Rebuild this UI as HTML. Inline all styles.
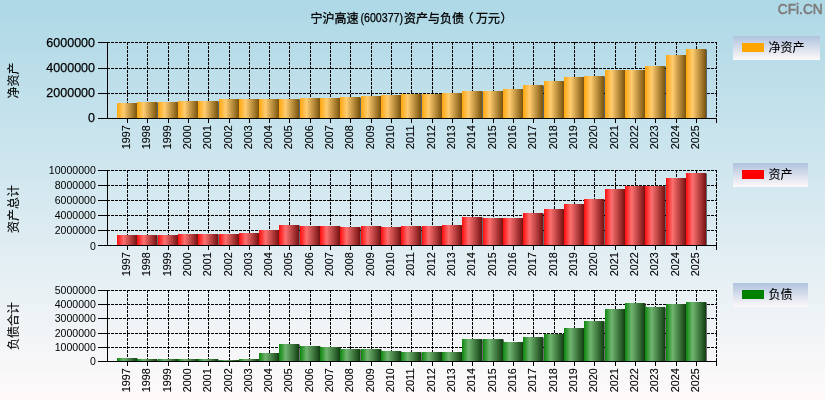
<!DOCTYPE html>
<html lang="zh-CN"><head><meta charset="utf-8"><title>宁沪高速(600377)资产与负债（万元）</title>
<style>
html,body{margin:0;padding:0;background:#fff;}
body{width:825px;height:400px;overflow:hidden;}
svg{display:block;}
text{font-family:"Liberation Sans","Noto Sans CJK SC",sans-serif;fill:#000;stroke:#000;stroke-width:0.25px;}
.cj{font-family:"Liberation Sans","Noto Sans CJK SC",sans-serif;font-size:12px;stroke-width:0.12px;}
.grid{stroke:#000;stroke-width:1;stroke-dasharray:3 1;fill:none;shape-rendering:crispEdges;}
.ax{stroke:#000;stroke-width:1;fill:none;shape-rendering:crispEdges;}
.tt{stroke-width:0.3px;}
.xl{font-size:10.8px;stroke-width:0.1px;}
</style></head><body>
<svg width="825" height="400" viewBox="0 0 825 400">
<defs>
<linearGradient id="bg" x1="0" y1="0" x2="0" y2="1"><stop offset="0" stop-color="#ADD8E6"/><stop offset="1" stop-color="#FFFAFA"/></linearGradient>
<linearGradient id="lg" x1="0" y1="0" x2="0" y2="1"><stop offset="0" stop-color="#B0C3DE"/><stop offset="1" stop-color="#FEF9FA"/></linearGradient>
<linearGradient id="g1" x1="0" y1="0" x2="1" y2="0"><stop offset="0" stop-color="#FFA60E"/><stop offset="0.33" stop-color="#FFCC70"/><stop offset="1" stop-color="#79530D"/></linearGradient>
<linearGradient id="g2" x1="0" y1="0" x2="1" y2="0"><stop offset="0" stop-color="#FF0C0C"/><stop offset="0.33" stop-color="#FC7070"/><stop offset="1" stop-color="#761111"/></linearGradient>
<linearGradient id="g3" x1="0" y1="0" x2="1" y2="0"><stop offset="0" stop-color="#0C860C"/><stop offset="0.33" stop-color="#70B470"/><stop offset="1" stop-color="#113E11"/></linearGradient>
</defs>
<rect x="0" y="0" width="825" height="400" fill="url(#bg)"/>

<text x="310.5" y="22.5" class="cj tt">宁沪高速</text>
<text x="360.5" y="22" font-size="12px" textLength="42.5" lengthAdjust="spacingAndGlyphs">(600377)</text>
<text y="22.5" class="cj tt"><tspan x="404">资产与负债</tspan><tspan x="461.5">（</tspan><tspan x="476">万元</tspan><tspan x="500.5">）</tspan></text>
<text x="777.8" y="14.4" font-size="14px" style="fill:#7e7b7b;stroke:#7e7b7b;stroke-width:0.55px" textLength="44.9" lengthAdjust="spacingAndGlyphs">CFi.CN</text>
<line class="grid" x1="107" y1="42.5" x2="717" y2="42.5"/>
<line class="grid" x1="107" y1="68.5" x2="717" y2="68.5"/>
<line class="grid" x1="107" y1="93.5" x2="717" y2="93.5"/>
<line class="grid" x1="127.5" y1="42.0" x2="127.5" y2="118.0"/>
<line class="grid" x1="147.5" y1="42.0" x2="147.5" y2="118.0"/>
<line class="grid" x1="168.5" y1="42.0" x2="168.5" y2="118.0"/>
<line class="grid" x1="188.5" y1="42.0" x2="188.5" y2="118.0"/>
<line class="grid" x1="208.5" y1="42.0" x2="208.5" y2="118.0"/>
<line class="grid" x1="229.5" y1="42.0" x2="229.5" y2="118.0"/>
<line class="grid" x1="249.5" y1="42.0" x2="249.5" y2="118.0"/>
<line class="grid" x1="269.5" y1="42.0" x2="269.5" y2="118.0"/>
<line class="grid" x1="289.5" y1="42.0" x2="289.5" y2="118.0"/>
<line class="grid" x1="310.5" y1="42.0" x2="310.5" y2="118.0"/>
<line class="grid" x1="330.5" y1="42.0" x2="330.5" y2="118.0"/>
<line class="grid" x1="350.5" y1="42.0" x2="350.5" y2="118.0"/>
<line class="grid" x1="371.5" y1="42.0" x2="371.5" y2="118.0"/>
<line class="grid" x1="391.5" y1="42.0" x2="391.5" y2="118.0"/>
<line class="grid" x1="411.5" y1="42.0" x2="411.5" y2="118.0"/>
<line class="grid" x1="432.5" y1="42.0" x2="432.5" y2="118.0"/>
<line class="grid" x1="452.5" y1="42.0" x2="452.5" y2="118.0"/>
<line class="grid" x1="472.5" y1="42.0" x2="472.5" y2="118.0"/>
<line class="grid" x1="493.5" y1="42.0" x2="493.5" y2="118.0"/>
<line class="grid" x1="513.5" y1="42.0" x2="513.5" y2="118.0"/>
<line class="grid" x1="533.5" y1="42.0" x2="533.5" y2="118.0"/>
<line class="grid" x1="554.5" y1="42.0" x2="554.5" y2="118.0"/>
<line class="grid" x1="574.5" y1="42.0" x2="574.5" y2="118.0"/>
<line class="grid" x1="594.5" y1="42.0" x2="594.5" y2="118.0"/>
<line class="grid" x1="615.5" y1="42.0" x2="615.5" y2="118.0"/>
<line class="grid" x1="635.5" y1="42.0" x2="635.5" y2="118.0"/>
<line class="grid" x1="655.5" y1="42.0" x2="655.5" y2="118.0"/>
<line class="grid" x1="676.5" y1="42.0" x2="676.5" y2="118.0"/>
<line class="grid" x1="696.5" y1="42.0" x2="696.5" y2="118.0"/>
<line class="grid" x1="716.5" y1="42.0" x2="716.5" y2="118.0"/>
<rect x="118" y="103.5" width="20" height="14.5" fill="#000" fill-opacity="0.55"/>
<rect x="138" y="102.5" width="20" height="15.5" fill="#000" fill-opacity="0.55"/>
<rect x="159" y="102.5" width="20" height="15.5" fill="#000" fill-opacity="0.55"/>
<rect x="179" y="101.5" width="20" height="16.5" fill="#000" fill-opacity="0.55"/>
<rect x="199" y="101.5" width="20" height="16.5" fill="#000" fill-opacity="0.55"/>
<rect x="220" y="99.5" width="20" height="18.5" fill="#000" fill-opacity="0.55"/>
<rect x="240" y="99.5" width="20" height="18.5" fill="#000" fill-opacity="0.55"/>
<rect x="260" y="99.5" width="20" height="18.5" fill="#000" fill-opacity="0.55"/>
<rect x="280" y="99.5" width="20" height="18.5" fill="#000" fill-opacity="0.55"/>
<rect x="301" y="98.5" width="20" height="19.5" fill="#000" fill-opacity="0.55"/>
<rect x="321" y="98.5" width="20" height="19.5" fill="#000" fill-opacity="0.55"/>
<rect x="341" y="97.5" width="20" height="20.5" fill="#000" fill-opacity="0.55"/>
<rect x="362" y="96.5" width="20" height="21.5" fill="#000" fill-opacity="0.55"/>
<rect x="382" y="95.5" width="20" height="22.5" fill="#000" fill-opacity="0.55"/>
<rect x="402" y="94.5" width="20" height="23.5" fill="#000" fill-opacity="0.55"/>
<rect x="423" y="94.5" width="20" height="23.5" fill="#000" fill-opacity="0.55"/>
<rect x="443" y="93.5" width="20" height="24.5" fill="#000" fill-opacity="0.55"/>
<rect x="463" y="91.5" width="20" height="26.5" fill="#000" fill-opacity="0.55"/>
<rect x="484" y="91.5" width="20" height="26.5" fill="#000" fill-opacity="0.55"/>
<rect x="504" y="89.5" width="20" height="28.5" fill="#000" fill-opacity="0.55"/>
<rect x="524" y="85.5" width="20" height="32.5" fill="#000" fill-opacity="0.55"/>
<rect x="545" y="81.5" width="20" height="36.5" fill="#000" fill-opacity="0.55"/>
<rect x="565" y="77.5" width="20" height="40.5" fill="#000" fill-opacity="0.55"/>
<rect x="585" y="76.5" width="20" height="41.5" fill="#000" fill-opacity="0.55"/>
<rect x="606" y="70.5" width="20" height="47.5" fill="#000" fill-opacity="0.55"/>
<rect x="626" y="70.5" width="20" height="47.5" fill="#000" fill-opacity="0.55"/>
<rect x="646" y="66.5" width="20" height="51.5" fill="#000" fill-opacity="0.55"/>
<rect x="667" y="55.5" width="20" height="62.5" fill="#000" fill-opacity="0.55"/>
<rect x="687" y="49.5" width="20" height="68.5" fill="#000" fill-opacity="0.55"/>
<rect x="117" y="103" width="20" height="15" fill="url(#g1)"/>
<rect x="137" y="102" width="20" height="16" fill="url(#g1)"/>
<rect x="158" y="102" width="20" height="16" fill="url(#g1)"/>
<rect x="178" y="101" width="20" height="17" fill="url(#g1)"/>
<rect x="198" y="101" width="20" height="17" fill="url(#g1)"/>
<rect x="219" y="99" width="20" height="19" fill="url(#g1)"/>
<rect x="239" y="99" width="20" height="19" fill="url(#g1)"/>
<rect x="259" y="99" width="20" height="19" fill="url(#g1)"/>
<rect x="279" y="99" width="20" height="19" fill="url(#g1)"/>
<rect x="300" y="98" width="20" height="20" fill="url(#g1)"/>
<rect x="320" y="98" width="20" height="20" fill="url(#g1)"/>
<rect x="340" y="97" width="20" height="21" fill="url(#g1)"/>
<rect x="361" y="96" width="20" height="22" fill="url(#g1)"/>
<rect x="381" y="95" width="20" height="23" fill="url(#g1)"/>
<rect x="401" y="94" width="20" height="24" fill="url(#g1)"/>
<rect x="422" y="94" width="20" height="24" fill="url(#g1)"/>
<rect x="442" y="93" width="20" height="25" fill="url(#g1)"/>
<rect x="462" y="91" width="20" height="27" fill="url(#g1)"/>
<rect x="483" y="91" width="20" height="27" fill="url(#g1)"/>
<rect x="503" y="89" width="20" height="29" fill="url(#g1)"/>
<rect x="523" y="85" width="20" height="33" fill="url(#g1)"/>
<rect x="544" y="81" width="20" height="37" fill="url(#g1)"/>
<rect x="564" y="77" width="20" height="41" fill="url(#g1)"/>
<rect x="584" y="76" width="20" height="42" fill="url(#g1)"/>
<rect x="605" y="70" width="20" height="48" fill="url(#g1)"/>
<rect x="625" y="70" width="20" height="48" fill="url(#g1)"/>
<rect x="645" y="66" width="20" height="52" fill="url(#g1)"/>
<rect x="666" y="55" width="20" height="63" fill="url(#g1)"/>
<rect x="686" y="49" width="20" height="69" fill="url(#g1)"/>
<line class="ax" x1="107.5" y1="42" x2="107.5" y2="119"/>
<line class="ax" x1="107.0" y1="118.5" x2="717.0" y2="118.5"/>
<line class="ax" x1="98" y1="42.5" x2="107.5" y2="42.5"/>
<text x="95" y="46.80" font-size="13px" style="stroke-width:0.25px" text-anchor="end" textLength="48.65" lengthAdjust="spacingAndGlyphs">6000000</text>
<line class="ax" x1="98" y1="68.5" x2="107.5" y2="68.5"/>
<text x="95" y="72.10" font-size="13px" style="stroke-width:0.25px" text-anchor="end" textLength="48.65" lengthAdjust="spacingAndGlyphs">4000000</text>
<line class="ax" x1="98" y1="93.5" x2="107.5" y2="93.5"/>
<text x="95" y="97.00" font-size="13px" style="stroke-width:0.25px" text-anchor="end" textLength="48.65" lengthAdjust="spacingAndGlyphs">2000000</text>
<line class="ax" x1="98" y1="118.5" x2="107.5" y2="118.5"/>
<text x="95" y="121.95" font-size="13px" style="stroke-width:0.25px" text-anchor="end" textLength="6.95" lengthAdjust="spacingAndGlyphs">0</text>
<line class="ax" x1="127.5" y1="119" x2="127.5" y2="123"/>
<text class="xl" transform="translate(129.6,125.3) rotate(-90)" text-anchor="end" textLength="24" lengthAdjust="spacingAndGlyphs">1997</text>
<line class="ax" x1="147.5" y1="119" x2="147.5" y2="123"/>
<text class="xl" transform="translate(149.6,125.3) rotate(-90)" text-anchor="end" textLength="24" lengthAdjust="spacingAndGlyphs">1998</text>
<line class="ax" x1="168.5" y1="119" x2="168.5" y2="123"/>
<text class="xl" transform="translate(170.6,125.3) rotate(-90)" text-anchor="end" textLength="24" lengthAdjust="spacingAndGlyphs">1999</text>
<line class="ax" x1="188.5" y1="119" x2="188.5" y2="123"/>
<text class="xl" transform="translate(190.6,125.3) rotate(-90)" text-anchor="end" textLength="24" lengthAdjust="spacingAndGlyphs">2000</text>
<line class="ax" x1="208.5" y1="119" x2="208.5" y2="123"/>
<text class="xl" transform="translate(210.6,125.3) rotate(-90)" text-anchor="end" textLength="24" lengthAdjust="spacingAndGlyphs">2001</text>
<line class="ax" x1="229.5" y1="119" x2="229.5" y2="123"/>
<text class="xl" transform="translate(231.6,125.3) rotate(-90)" text-anchor="end" textLength="24" lengthAdjust="spacingAndGlyphs">2002</text>
<line class="ax" x1="249.5" y1="119" x2="249.5" y2="123"/>
<text class="xl" transform="translate(251.6,125.3) rotate(-90)" text-anchor="end" textLength="24" lengthAdjust="spacingAndGlyphs">2003</text>
<line class="ax" x1="269.5" y1="119" x2="269.5" y2="123"/>
<text class="xl" transform="translate(271.6,125.3) rotate(-90)" text-anchor="end" textLength="24" lengthAdjust="spacingAndGlyphs">2004</text>
<line class="ax" x1="289.5" y1="119" x2="289.5" y2="123"/>
<text class="xl" transform="translate(291.6,125.3) rotate(-90)" text-anchor="end" textLength="24" lengthAdjust="spacingAndGlyphs">2005</text>
<line class="ax" x1="310.5" y1="119" x2="310.5" y2="123"/>
<text class="xl" transform="translate(312.6,125.3) rotate(-90)" text-anchor="end" textLength="24" lengthAdjust="spacingAndGlyphs">2006</text>
<line class="ax" x1="330.5" y1="119" x2="330.5" y2="123"/>
<text class="xl" transform="translate(332.6,125.3) rotate(-90)" text-anchor="end" textLength="24" lengthAdjust="spacingAndGlyphs">2007</text>
<line class="ax" x1="350.5" y1="119" x2="350.5" y2="123"/>
<text class="xl" transform="translate(352.6,125.3) rotate(-90)" text-anchor="end" textLength="24" lengthAdjust="spacingAndGlyphs">2008</text>
<line class="ax" x1="371.5" y1="119" x2="371.5" y2="123"/>
<text class="xl" transform="translate(373.6,125.3) rotate(-90)" text-anchor="end" textLength="24" lengthAdjust="spacingAndGlyphs">2009</text>
<line class="ax" x1="391.5" y1="119" x2="391.5" y2="123"/>
<text class="xl" transform="translate(393.6,125.3) rotate(-90)" text-anchor="end" textLength="24" lengthAdjust="spacingAndGlyphs">2010</text>
<line class="ax" x1="411.5" y1="119" x2="411.5" y2="123"/>
<text class="xl" transform="translate(413.6,125.3) rotate(-90)" text-anchor="end" textLength="24" lengthAdjust="spacingAndGlyphs">2011</text>
<line class="ax" x1="432.5" y1="119" x2="432.5" y2="123"/>
<text class="xl" transform="translate(434.6,125.3) rotate(-90)" text-anchor="end" textLength="24" lengthAdjust="spacingAndGlyphs">2012</text>
<line class="ax" x1="452.5" y1="119" x2="452.5" y2="123"/>
<text class="xl" transform="translate(454.6,125.3) rotate(-90)" text-anchor="end" textLength="24" lengthAdjust="spacingAndGlyphs">2013</text>
<line class="ax" x1="472.5" y1="119" x2="472.5" y2="123"/>
<text class="xl" transform="translate(474.6,125.3) rotate(-90)" text-anchor="end" textLength="24" lengthAdjust="spacingAndGlyphs">2014</text>
<line class="ax" x1="493.5" y1="119" x2="493.5" y2="123"/>
<text class="xl" transform="translate(495.6,125.3) rotate(-90)" text-anchor="end" textLength="24" lengthAdjust="spacingAndGlyphs">2015</text>
<line class="ax" x1="513.5" y1="119" x2="513.5" y2="123"/>
<text class="xl" transform="translate(515.5,125.3) rotate(-90)" text-anchor="end" textLength="24" lengthAdjust="spacingAndGlyphs">2016</text>
<line class="ax" x1="533.5" y1="119" x2="533.5" y2="123"/>
<text class="xl" transform="translate(535.5,125.3) rotate(-90)" text-anchor="end" textLength="24" lengthAdjust="spacingAndGlyphs">2017</text>
<line class="ax" x1="554.5" y1="119" x2="554.5" y2="123"/>
<text class="xl" transform="translate(556.5,125.3) rotate(-90)" text-anchor="end" textLength="24" lengthAdjust="spacingAndGlyphs">2018</text>
<line class="ax" x1="574.5" y1="119" x2="574.5" y2="123"/>
<text class="xl" transform="translate(576.5,125.3) rotate(-90)" text-anchor="end" textLength="24" lengthAdjust="spacingAndGlyphs">2019</text>
<line class="ax" x1="594.5" y1="119" x2="594.5" y2="123"/>
<text class="xl" transform="translate(596.5,125.3) rotate(-90)" text-anchor="end" textLength="24" lengthAdjust="spacingAndGlyphs">2020</text>
<line class="ax" x1="615.5" y1="119" x2="615.5" y2="123"/>
<text class="xl" transform="translate(617.5,125.3) rotate(-90)" text-anchor="end" textLength="24" lengthAdjust="spacingAndGlyphs">2021</text>
<line class="ax" x1="635.5" y1="119" x2="635.5" y2="123"/>
<text class="xl" transform="translate(637.5,125.3) rotate(-90)" text-anchor="end" textLength="24" lengthAdjust="spacingAndGlyphs">2022</text>
<line class="ax" x1="655.5" y1="119" x2="655.5" y2="123"/>
<text class="xl" transform="translate(657.5,125.3) rotate(-90)" text-anchor="end" textLength="24" lengthAdjust="spacingAndGlyphs">2023</text>
<line class="ax" x1="676.5" y1="119" x2="676.5" y2="123"/>
<text class="xl" transform="translate(678.5,125.3) rotate(-90)" text-anchor="end" textLength="24" lengthAdjust="spacingAndGlyphs">2024</text>
<line class="ax" x1="696.5" y1="119" x2="696.5" y2="123"/>
<text class="xl" transform="translate(698.5,125.3) rotate(-90)" text-anchor="end" textLength="24" lengthAdjust="spacingAndGlyphs">2025</text>
<line class="ax" x1="716.5" y1="119" x2="716.5" y2="123"/>
<text class="cj" transform="translate(17.5,80.5) rotate(-90)" text-anchor="middle">净资产</text>
<rect x="733" y="36" width="87" height="24" fill="url(#lg)"/>
<rect x="742" y="43" width="22" height="9" fill="#FFA500"/>
<text class="cj" x="768.4" y="52.1">净资产</text>
<line class="grid" x1="107" y1="170.5" x2="717" y2="170.5"/>
<line class="grid" x1="107" y1="185.5" x2="717" y2="185.5"/>
<line class="grid" x1="107" y1="200.5" x2="717" y2="200.5"/>
<line class="grid" x1="107" y1="215.5" x2="717" y2="215.5"/>
<line class="grid" x1="107" y1="230.5" x2="717" y2="230.5"/>
<line class="grid" x1="127.5" y1="170.0" x2="127.5" y2="245.0"/>
<line class="grid" x1="147.5" y1="170.0" x2="147.5" y2="245.0"/>
<line class="grid" x1="168.5" y1="170.0" x2="168.5" y2="245.0"/>
<line class="grid" x1="188.5" y1="170.0" x2="188.5" y2="245.0"/>
<line class="grid" x1="208.5" y1="170.0" x2="208.5" y2="245.0"/>
<line class="grid" x1="229.5" y1="170.0" x2="229.5" y2="245.0"/>
<line class="grid" x1="249.5" y1="170.0" x2="249.5" y2="245.0"/>
<line class="grid" x1="269.5" y1="170.0" x2="269.5" y2="245.0"/>
<line class="grid" x1="289.5" y1="170.0" x2="289.5" y2="245.0"/>
<line class="grid" x1="310.5" y1="170.0" x2="310.5" y2="245.0"/>
<line class="grid" x1="330.5" y1="170.0" x2="330.5" y2="245.0"/>
<line class="grid" x1="350.5" y1="170.0" x2="350.5" y2="245.0"/>
<line class="grid" x1="371.5" y1="170.0" x2="371.5" y2="245.0"/>
<line class="grid" x1="391.5" y1="170.0" x2="391.5" y2="245.0"/>
<line class="grid" x1="411.5" y1="170.0" x2="411.5" y2="245.0"/>
<line class="grid" x1="432.5" y1="170.0" x2="432.5" y2="245.0"/>
<line class="grid" x1="452.5" y1="170.0" x2="452.5" y2="245.0"/>
<line class="grid" x1="472.5" y1="170.0" x2="472.5" y2="245.0"/>
<line class="grid" x1="493.5" y1="170.0" x2="493.5" y2="245.0"/>
<line class="grid" x1="513.5" y1="170.0" x2="513.5" y2="245.0"/>
<line class="grid" x1="533.5" y1="170.0" x2="533.5" y2="245.0"/>
<line class="grid" x1="554.5" y1="170.0" x2="554.5" y2="245.0"/>
<line class="grid" x1="574.5" y1="170.0" x2="574.5" y2="245.0"/>
<line class="grid" x1="594.5" y1="170.0" x2="594.5" y2="245.0"/>
<line class="grid" x1="615.5" y1="170.0" x2="615.5" y2="245.0"/>
<line class="grid" x1="635.5" y1="170.0" x2="635.5" y2="245.0"/>
<line class="grid" x1="655.5" y1="170.0" x2="655.5" y2="245.0"/>
<line class="grid" x1="676.5" y1="170.0" x2="676.5" y2="245.0"/>
<line class="grid" x1="696.5" y1="170.0" x2="696.5" y2="245.0"/>
<line class="grid" x1="716.5" y1="170.0" x2="716.5" y2="245.0"/>
<rect x="118" y="235.5" width="20" height="9.5" fill="#000" fill-opacity="0.55"/>
<rect x="138" y="235.5" width="20" height="9.5" fill="#000" fill-opacity="0.55"/>
<rect x="159" y="235.5" width="20" height="9.5" fill="#000" fill-opacity="0.55"/>
<rect x="179" y="234.5" width="20" height="10.5" fill="#000" fill-opacity="0.55"/>
<rect x="199" y="234.5" width="20" height="10.5" fill="#000" fill-opacity="0.55"/>
<rect x="220" y="234.5" width="20" height="10.5" fill="#000" fill-opacity="0.55"/>
<rect x="240" y="233.5" width="20" height="11.5" fill="#000" fill-opacity="0.55"/>
<rect x="260" y="230.5" width="20" height="14.5" fill="#000" fill-opacity="0.55"/>
<rect x="280" y="225.5" width="20" height="19.5" fill="#000" fill-opacity="0.55"/>
<rect x="301" y="226.5" width="20" height="18.5" fill="#000" fill-opacity="0.55"/>
<rect x="321" y="226.5" width="20" height="18.5" fill="#000" fill-opacity="0.55"/>
<rect x="341" y="227.5" width="20" height="17.5" fill="#000" fill-opacity="0.55"/>
<rect x="362" y="226.5" width="20" height="18.5" fill="#000" fill-opacity="0.55"/>
<rect x="382" y="227.5" width="20" height="17.5" fill="#000" fill-opacity="0.55"/>
<rect x="402" y="226.5" width="20" height="18.5" fill="#000" fill-opacity="0.55"/>
<rect x="423" y="226.5" width="20" height="18.5" fill="#000" fill-opacity="0.55"/>
<rect x="443" y="225.5" width="20" height="19.5" fill="#000" fill-opacity="0.55"/>
<rect x="463" y="217.5" width="20" height="27.5" fill="#000" fill-opacity="0.55"/>
<rect x="484" y="218.5" width="20" height="26.5" fill="#000" fill-opacity="0.55"/>
<rect x="504" y="218.5" width="20" height="26.5" fill="#000" fill-opacity="0.55"/>
<rect x="524" y="213.5" width="20" height="31.5" fill="#000" fill-opacity="0.55"/>
<rect x="545" y="209.5" width="20" height="35.5" fill="#000" fill-opacity="0.55"/>
<rect x="565" y="204.5" width="20" height="40.5" fill="#000" fill-opacity="0.55"/>
<rect x="585" y="199.5" width="20" height="45.5" fill="#000" fill-opacity="0.55"/>
<rect x="606" y="189.5" width="20" height="55.5" fill="#000" fill-opacity="0.55"/>
<rect x="626" y="186.5" width="20" height="58.5" fill="#000" fill-opacity="0.55"/>
<rect x="646" y="186.5" width="20" height="58.5" fill="#000" fill-opacity="0.55"/>
<rect x="667" y="178.5" width="20" height="66.5" fill="#000" fill-opacity="0.55"/>
<rect x="687" y="173.5" width="20" height="71.5" fill="#000" fill-opacity="0.55"/>
<rect x="117" y="235" width="20" height="10" fill="url(#g2)"/>
<rect x="137" y="235" width="20" height="10" fill="url(#g2)"/>
<rect x="158" y="235" width="20" height="10" fill="url(#g2)"/>
<rect x="178" y="234" width="20" height="11" fill="url(#g2)"/>
<rect x="198" y="234" width="20" height="11" fill="url(#g2)"/>
<rect x="219" y="234" width="20" height="11" fill="url(#g2)"/>
<rect x="239" y="233" width="20" height="12" fill="url(#g2)"/>
<rect x="259" y="230" width="20" height="15" fill="url(#g2)"/>
<rect x="279" y="225" width="20" height="20" fill="url(#g2)"/>
<rect x="300" y="226" width="20" height="19" fill="url(#g2)"/>
<rect x="320" y="226" width="20" height="19" fill="url(#g2)"/>
<rect x="340" y="227" width="20" height="18" fill="url(#g2)"/>
<rect x="361" y="226" width="20" height="19" fill="url(#g2)"/>
<rect x="381" y="227" width="20" height="18" fill="url(#g2)"/>
<rect x="401" y="226" width="20" height="19" fill="url(#g2)"/>
<rect x="422" y="226" width="20" height="19" fill="url(#g2)"/>
<rect x="442" y="225" width="20" height="20" fill="url(#g2)"/>
<rect x="462" y="217" width="20" height="28" fill="url(#g2)"/>
<rect x="483" y="218" width="20" height="27" fill="url(#g2)"/>
<rect x="503" y="218" width="20" height="27" fill="url(#g2)"/>
<rect x="523" y="213" width="20" height="32" fill="url(#g2)"/>
<rect x="544" y="209" width="20" height="36" fill="url(#g2)"/>
<rect x="564" y="204" width="20" height="41" fill="url(#g2)"/>
<rect x="584" y="199" width="20" height="46" fill="url(#g2)"/>
<rect x="605" y="189" width="20" height="56" fill="url(#g2)"/>
<rect x="625" y="186" width="20" height="59" fill="url(#g2)"/>
<rect x="645" y="186" width="20" height="59" fill="url(#g2)"/>
<rect x="666" y="178" width="20" height="67" fill="url(#g2)"/>
<rect x="686" y="173" width="20" height="72" fill="url(#g2)"/>
<line class="ax" x1="107.5" y1="170" x2="107.5" y2="246"/>
<line class="ax" x1="107.0" y1="245.5" x2="717.0" y2="245.5"/>
<line class="ax" x1="98" y1="170.5" x2="107.5" y2="170.5"/>
<text x="95.8" y="173.60" font-size="11.3px" style="stroke-width:0px" text-anchor="end" textLength="46.96" lengthAdjust="spacingAndGlyphs">10000000</text>
<line class="ax" x1="98" y1="185.5" x2="107.5" y2="185.5"/>
<text x="95.8" y="188.80" font-size="11.3px" style="stroke-width:0px" text-anchor="end" textLength="41.09" lengthAdjust="spacingAndGlyphs">8000000</text>
<line class="ax" x1="98" y1="200.5" x2="107.5" y2="200.5"/>
<text x="95.8" y="204.00" font-size="11.3px" style="stroke-width:0px" text-anchor="end" textLength="41.09" lengthAdjust="spacingAndGlyphs">6000000</text>
<line class="ax" x1="98" y1="215.5" x2="107.5" y2="215.5"/>
<text x="95.8" y="219.20" font-size="11.3px" style="stroke-width:0px" text-anchor="end" textLength="41.09" lengthAdjust="spacingAndGlyphs">4000000</text>
<line class="ax" x1="98" y1="230.5" x2="107.5" y2="230.5"/>
<text x="95.8" y="234.40" font-size="11.3px" style="stroke-width:0px" text-anchor="end" textLength="41.09" lengthAdjust="spacingAndGlyphs">2000000</text>
<line class="ax" x1="98" y1="245.5" x2="107.5" y2="245.5"/>
<text x="95.8" y="249.60" font-size="11.3px" style="stroke-width:0px" text-anchor="end" textLength="5.87" lengthAdjust="spacingAndGlyphs">0</text>
<line class="ax" x1="127.5" y1="246" x2="127.5" y2="250"/>
<text class="xl" transform="translate(129.6,252.3) rotate(-90)" text-anchor="end" textLength="24" lengthAdjust="spacingAndGlyphs">1997</text>
<line class="ax" x1="147.5" y1="246" x2="147.5" y2="250"/>
<text class="xl" transform="translate(149.6,252.3) rotate(-90)" text-anchor="end" textLength="24" lengthAdjust="spacingAndGlyphs">1998</text>
<line class="ax" x1="168.5" y1="246" x2="168.5" y2="250"/>
<text class="xl" transform="translate(170.6,252.3) rotate(-90)" text-anchor="end" textLength="24" lengthAdjust="spacingAndGlyphs">1999</text>
<line class="ax" x1="188.5" y1="246" x2="188.5" y2="250"/>
<text class="xl" transform="translate(190.6,252.3) rotate(-90)" text-anchor="end" textLength="24" lengthAdjust="spacingAndGlyphs">2000</text>
<line class="ax" x1="208.5" y1="246" x2="208.5" y2="250"/>
<text class="xl" transform="translate(210.6,252.3) rotate(-90)" text-anchor="end" textLength="24" lengthAdjust="spacingAndGlyphs">2001</text>
<line class="ax" x1="229.5" y1="246" x2="229.5" y2="250"/>
<text class="xl" transform="translate(231.6,252.3) rotate(-90)" text-anchor="end" textLength="24" lengthAdjust="spacingAndGlyphs">2002</text>
<line class="ax" x1="249.5" y1="246" x2="249.5" y2="250"/>
<text class="xl" transform="translate(251.6,252.3) rotate(-90)" text-anchor="end" textLength="24" lengthAdjust="spacingAndGlyphs">2003</text>
<line class="ax" x1="269.5" y1="246" x2="269.5" y2="250"/>
<text class="xl" transform="translate(271.6,252.3) rotate(-90)" text-anchor="end" textLength="24" lengthAdjust="spacingAndGlyphs">2004</text>
<line class="ax" x1="289.5" y1="246" x2="289.5" y2="250"/>
<text class="xl" transform="translate(291.6,252.3) rotate(-90)" text-anchor="end" textLength="24" lengthAdjust="spacingAndGlyphs">2005</text>
<line class="ax" x1="310.5" y1="246" x2="310.5" y2="250"/>
<text class="xl" transform="translate(312.6,252.3) rotate(-90)" text-anchor="end" textLength="24" lengthAdjust="spacingAndGlyphs">2006</text>
<line class="ax" x1="330.5" y1="246" x2="330.5" y2="250"/>
<text class="xl" transform="translate(332.6,252.3) rotate(-90)" text-anchor="end" textLength="24" lengthAdjust="spacingAndGlyphs">2007</text>
<line class="ax" x1="350.5" y1="246" x2="350.5" y2="250"/>
<text class="xl" transform="translate(352.6,252.3) rotate(-90)" text-anchor="end" textLength="24" lengthAdjust="spacingAndGlyphs">2008</text>
<line class="ax" x1="371.5" y1="246" x2="371.5" y2="250"/>
<text class="xl" transform="translate(373.6,252.3) rotate(-90)" text-anchor="end" textLength="24" lengthAdjust="spacingAndGlyphs">2009</text>
<line class="ax" x1="391.5" y1="246" x2="391.5" y2="250"/>
<text class="xl" transform="translate(393.6,252.3) rotate(-90)" text-anchor="end" textLength="24" lengthAdjust="spacingAndGlyphs">2010</text>
<line class="ax" x1="411.5" y1="246" x2="411.5" y2="250"/>
<text class="xl" transform="translate(413.6,252.3) rotate(-90)" text-anchor="end" textLength="24" lengthAdjust="spacingAndGlyphs">2011</text>
<line class="ax" x1="432.5" y1="246" x2="432.5" y2="250"/>
<text class="xl" transform="translate(434.6,252.3) rotate(-90)" text-anchor="end" textLength="24" lengthAdjust="spacingAndGlyphs">2012</text>
<line class="ax" x1="452.5" y1="246" x2="452.5" y2="250"/>
<text class="xl" transform="translate(454.6,252.3) rotate(-90)" text-anchor="end" textLength="24" lengthAdjust="spacingAndGlyphs">2013</text>
<line class="ax" x1="472.5" y1="246" x2="472.5" y2="250"/>
<text class="xl" transform="translate(474.6,252.3) rotate(-90)" text-anchor="end" textLength="24" lengthAdjust="spacingAndGlyphs">2014</text>
<line class="ax" x1="493.5" y1="246" x2="493.5" y2="250"/>
<text class="xl" transform="translate(495.6,252.3) rotate(-90)" text-anchor="end" textLength="24" lengthAdjust="spacingAndGlyphs">2015</text>
<line class="ax" x1="513.5" y1="246" x2="513.5" y2="250"/>
<text class="xl" transform="translate(515.5,252.3) rotate(-90)" text-anchor="end" textLength="24" lengthAdjust="spacingAndGlyphs">2016</text>
<line class="ax" x1="533.5" y1="246" x2="533.5" y2="250"/>
<text class="xl" transform="translate(535.5,252.3) rotate(-90)" text-anchor="end" textLength="24" lengthAdjust="spacingAndGlyphs">2017</text>
<line class="ax" x1="554.5" y1="246" x2="554.5" y2="250"/>
<text class="xl" transform="translate(556.5,252.3) rotate(-90)" text-anchor="end" textLength="24" lengthAdjust="spacingAndGlyphs">2018</text>
<line class="ax" x1="574.5" y1="246" x2="574.5" y2="250"/>
<text class="xl" transform="translate(576.5,252.3) rotate(-90)" text-anchor="end" textLength="24" lengthAdjust="spacingAndGlyphs">2019</text>
<line class="ax" x1="594.5" y1="246" x2="594.5" y2="250"/>
<text class="xl" transform="translate(596.5,252.3) rotate(-90)" text-anchor="end" textLength="24" lengthAdjust="spacingAndGlyphs">2020</text>
<line class="ax" x1="615.5" y1="246" x2="615.5" y2="250"/>
<text class="xl" transform="translate(617.5,252.3) rotate(-90)" text-anchor="end" textLength="24" lengthAdjust="spacingAndGlyphs">2021</text>
<line class="ax" x1="635.5" y1="246" x2="635.5" y2="250"/>
<text class="xl" transform="translate(637.5,252.3) rotate(-90)" text-anchor="end" textLength="24" lengthAdjust="spacingAndGlyphs">2022</text>
<line class="ax" x1="655.5" y1="246" x2="655.5" y2="250"/>
<text class="xl" transform="translate(657.5,252.3) rotate(-90)" text-anchor="end" textLength="24" lengthAdjust="spacingAndGlyphs">2023</text>
<line class="ax" x1="676.5" y1="246" x2="676.5" y2="250"/>
<text class="xl" transform="translate(678.5,252.3) rotate(-90)" text-anchor="end" textLength="24" lengthAdjust="spacingAndGlyphs">2024</text>
<line class="ax" x1="696.5" y1="246" x2="696.5" y2="250"/>
<text class="xl" transform="translate(698.5,252.3) rotate(-90)" text-anchor="end" textLength="24" lengthAdjust="spacingAndGlyphs">2025</text>
<line class="ax" x1="716.5" y1="246" x2="716.5" y2="250"/>
<text class="cj" transform="translate(17.5,209.0) rotate(-90)" text-anchor="middle">资产总计</text>
<rect x="733" y="163" width="75" height="24" fill="url(#lg)"/>
<rect x="742" y="170" width="22" height="9" fill="#FF0000"/>
<text class="cj" x="768.4" y="179.1">资产</text>
<line class="grid" x1="107" y1="290.5" x2="717" y2="290.5"/>
<line class="grid" x1="107" y1="304.5" x2="717" y2="304.5"/>
<line class="grid" x1="107" y1="318.5" x2="717" y2="318.5"/>
<line class="grid" x1="107" y1="333.5" x2="717" y2="333.5"/>
<line class="grid" x1="107" y1="347.5" x2="717" y2="347.5"/>
<line class="grid" x1="127.5" y1="290.0" x2="127.5" y2="361.0"/>
<line class="grid" x1="147.5" y1="290.0" x2="147.5" y2="361.0"/>
<line class="grid" x1="168.5" y1="290.0" x2="168.5" y2="361.0"/>
<line class="grid" x1="188.5" y1="290.0" x2="188.5" y2="361.0"/>
<line class="grid" x1="208.5" y1="290.0" x2="208.5" y2="361.0"/>
<line class="grid" x1="229.5" y1="290.0" x2="229.5" y2="361.0"/>
<line class="grid" x1="249.5" y1="290.0" x2="249.5" y2="361.0"/>
<line class="grid" x1="269.5" y1="290.0" x2="269.5" y2="361.0"/>
<line class="grid" x1="289.5" y1="290.0" x2="289.5" y2="361.0"/>
<line class="grid" x1="310.5" y1="290.0" x2="310.5" y2="361.0"/>
<line class="grid" x1="330.5" y1="290.0" x2="330.5" y2="361.0"/>
<line class="grid" x1="350.5" y1="290.0" x2="350.5" y2="361.0"/>
<line class="grid" x1="371.5" y1="290.0" x2="371.5" y2="361.0"/>
<line class="grid" x1="391.5" y1="290.0" x2="391.5" y2="361.0"/>
<line class="grid" x1="411.5" y1="290.0" x2="411.5" y2="361.0"/>
<line class="grid" x1="432.5" y1="290.0" x2="432.5" y2="361.0"/>
<line class="grid" x1="452.5" y1="290.0" x2="452.5" y2="361.0"/>
<line class="grid" x1="472.5" y1="290.0" x2="472.5" y2="361.0"/>
<line class="grid" x1="493.5" y1="290.0" x2="493.5" y2="361.0"/>
<line class="grid" x1="513.5" y1="290.0" x2="513.5" y2="361.0"/>
<line class="grid" x1="533.5" y1="290.0" x2="533.5" y2="361.0"/>
<line class="grid" x1="554.5" y1="290.0" x2="554.5" y2="361.0"/>
<line class="grid" x1="574.5" y1="290.0" x2="574.5" y2="361.0"/>
<line class="grid" x1="594.5" y1="290.0" x2="594.5" y2="361.0"/>
<line class="grid" x1="615.5" y1="290.0" x2="615.5" y2="361.0"/>
<line class="grid" x1="635.5" y1="290.0" x2="635.5" y2="361.0"/>
<line class="grid" x1="655.5" y1="290.0" x2="655.5" y2="361.0"/>
<line class="grid" x1="676.5" y1="290.0" x2="676.5" y2="361.0"/>
<line class="grid" x1="696.5" y1="290.0" x2="696.5" y2="361.0"/>
<line class="grid" x1="716.5" y1="290.0" x2="716.5" y2="361.0"/>
<rect x="118" y="358.5" width="20" height="2.5" fill="#000" fill-opacity="0.55"/>
<rect x="138" y="359.5" width="20" height="1.5" fill="#000" fill-opacity="0.55"/>
<rect x="159" y="359.5" width="20" height="1.5" fill="#000" fill-opacity="0.55"/>
<rect x="179" y="359.5" width="20" height="1.5" fill="#000" fill-opacity="0.55"/>
<rect x="199" y="359.5" width="20" height="1.5" fill="#000" fill-opacity="0.55"/>
<rect x="220" y="360.5" width="20" height="0.5" fill="#000" fill-opacity="0.55"/>
<rect x="240" y="359.5" width="20" height="1.5" fill="#000" fill-opacity="0.55"/>
<rect x="260" y="353.5" width="20" height="7.5" fill="#000" fill-opacity="0.55"/>
<rect x="280" y="344.5" width="20" height="16.5" fill="#000" fill-opacity="0.55"/>
<rect x="301" y="346.5" width="20" height="14.5" fill="#000" fill-opacity="0.55"/>
<rect x="321" y="347.5" width="20" height="13.5" fill="#000" fill-opacity="0.55"/>
<rect x="341" y="349.5" width="20" height="11.5" fill="#000" fill-opacity="0.55"/>
<rect x="362" y="349.5" width="20" height="11.5" fill="#000" fill-opacity="0.55"/>
<rect x="382" y="351.5" width="20" height="9.5" fill="#000" fill-opacity="0.55"/>
<rect x="402" y="352.5" width="20" height="8.5" fill="#000" fill-opacity="0.55"/>
<rect x="423" y="352.5" width="20" height="8.5" fill="#000" fill-opacity="0.55"/>
<rect x="443" y="352.5" width="20" height="8.5" fill="#000" fill-opacity="0.55"/>
<rect x="463" y="339.5" width="20" height="21.5" fill="#000" fill-opacity="0.55"/>
<rect x="484" y="339.5" width="20" height="21.5" fill="#000" fill-opacity="0.55"/>
<rect x="504" y="342.5" width="20" height="18.5" fill="#000" fill-opacity="0.55"/>
<rect x="524" y="337.5" width="20" height="23.5" fill="#000" fill-opacity="0.55"/>
<rect x="545" y="334.5" width="20" height="26.5" fill="#000" fill-opacity="0.55"/>
<rect x="565" y="328.5" width="20" height="32.5" fill="#000" fill-opacity="0.55"/>
<rect x="585" y="321.5" width="20" height="39.5" fill="#000" fill-opacity="0.55"/>
<rect x="606" y="309.5" width="20" height="51.5" fill="#000" fill-opacity="0.55"/>
<rect x="626" y="303.5" width="20" height="57.5" fill="#000" fill-opacity="0.55"/>
<rect x="646" y="307.5" width="20" height="53.5" fill="#000" fill-opacity="0.55"/>
<rect x="667" y="304.5" width="20" height="56.5" fill="#000" fill-opacity="0.55"/>
<rect x="687" y="302.5" width="20" height="58.5" fill="#000" fill-opacity="0.55"/>
<rect x="117" y="358" width="20" height="3" fill="url(#g3)"/>
<rect x="137" y="359" width="20" height="2" fill="url(#g3)"/>
<rect x="158" y="359" width="20" height="2" fill="url(#g3)"/>
<rect x="178" y="359" width="20" height="2" fill="url(#g3)"/>
<rect x="198" y="359" width="20" height="2" fill="url(#g3)"/>
<rect x="219" y="360" width="20" height="1" fill="url(#g3)"/>
<rect x="239" y="359" width="20" height="2" fill="url(#g3)"/>
<rect x="259" y="353" width="20" height="8" fill="url(#g3)"/>
<rect x="279" y="344" width="20" height="17" fill="url(#g3)"/>
<rect x="300" y="346" width="20" height="15" fill="url(#g3)"/>
<rect x="320" y="347" width="20" height="14" fill="url(#g3)"/>
<rect x="340" y="349" width="20" height="12" fill="url(#g3)"/>
<rect x="361" y="349" width="20" height="12" fill="url(#g3)"/>
<rect x="381" y="351" width="20" height="10" fill="url(#g3)"/>
<rect x="401" y="352" width="20" height="9" fill="url(#g3)"/>
<rect x="422" y="352" width="20" height="9" fill="url(#g3)"/>
<rect x="442" y="352" width="20" height="9" fill="url(#g3)"/>
<rect x="462" y="339" width="20" height="22" fill="url(#g3)"/>
<rect x="483" y="339" width="20" height="22" fill="url(#g3)"/>
<rect x="503" y="342" width="20" height="19" fill="url(#g3)"/>
<rect x="523" y="337" width="20" height="24" fill="url(#g3)"/>
<rect x="544" y="334" width="20" height="27" fill="url(#g3)"/>
<rect x="564" y="328" width="20" height="33" fill="url(#g3)"/>
<rect x="584" y="321" width="20" height="40" fill="url(#g3)"/>
<rect x="605" y="309" width="20" height="52" fill="url(#g3)"/>
<rect x="625" y="303" width="20" height="58" fill="url(#g3)"/>
<rect x="645" y="307" width="20" height="54" fill="url(#g3)"/>
<rect x="666" y="304" width="20" height="57" fill="url(#g3)"/>
<rect x="686" y="302" width="20" height="59" fill="url(#g3)"/>
<line class="ax" x1="107.5" y1="290" x2="107.5" y2="362"/>
<line class="ax" x1="107.0" y1="361.5" x2="717.0" y2="361.5"/>
<line class="ax" x1="98" y1="290.5" x2="107.5" y2="290.5"/>
<text x="95.8" y="294.40" font-size="11.3px" style="stroke-width:0px" text-anchor="end" textLength="41.09" lengthAdjust="spacingAndGlyphs">5000000</text>
<line class="ax" x1="98" y1="304.5" x2="107.5" y2="304.5"/>
<text x="95.8" y="308.40" font-size="11.3px" style="stroke-width:0px" text-anchor="end" textLength="41.09" lengthAdjust="spacingAndGlyphs">4000000</text>
<line class="ax" x1="98" y1="318.5" x2="107.5" y2="318.5"/>
<text x="95.8" y="322.40" font-size="11.3px" style="stroke-width:0px" text-anchor="end" textLength="41.09" lengthAdjust="spacingAndGlyphs">3000000</text>
<line class="ax" x1="98" y1="333.5" x2="107.5" y2="333.5"/>
<text x="95.8" y="337.40" font-size="11.3px" style="stroke-width:0px" text-anchor="end" textLength="41.09" lengthAdjust="spacingAndGlyphs">2000000</text>
<line class="ax" x1="98" y1="347.5" x2="107.5" y2="347.5"/>
<text x="95.8" y="351.40" font-size="11.3px" style="stroke-width:0px" text-anchor="end" textLength="41.09" lengthAdjust="spacingAndGlyphs">1000000</text>
<line class="ax" x1="98" y1="361.5" x2="107.5" y2="361.5"/>
<text x="95.8" y="365.40" font-size="11.3px" style="stroke-width:0px" text-anchor="end" textLength="5.87" lengthAdjust="spacingAndGlyphs">0</text>
<line class="ax" x1="127.5" y1="362" x2="127.5" y2="366"/>
<text class="xl" transform="translate(129.6,368.3) rotate(-90)" text-anchor="end" textLength="24" lengthAdjust="spacingAndGlyphs">1997</text>
<line class="ax" x1="147.5" y1="362" x2="147.5" y2="366"/>
<text class="xl" transform="translate(149.6,368.3) rotate(-90)" text-anchor="end" textLength="24" lengthAdjust="spacingAndGlyphs">1998</text>
<line class="ax" x1="168.5" y1="362" x2="168.5" y2="366"/>
<text class="xl" transform="translate(170.6,368.3) rotate(-90)" text-anchor="end" textLength="24" lengthAdjust="spacingAndGlyphs">1999</text>
<line class="ax" x1="188.5" y1="362" x2="188.5" y2="366"/>
<text class="xl" transform="translate(190.6,368.3) rotate(-90)" text-anchor="end" textLength="24" lengthAdjust="spacingAndGlyphs">2000</text>
<line class="ax" x1="208.5" y1="362" x2="208.5" y2="366"/>
<text class="xl" transform="translate(210.6,368.3) rotate(-90)" text-anchor="end" textLength="24" lengthAdjust="spacingAndGlyphs">2001</text>
<line class="ax" x1="229.5" y1="362" x2="229.5" y2="366"/>
<text class="xl" transform="translate(231.6,368.3) rotate(-90)" text-anchor="end" textLength="24" lengthAdjust="spacingAndGlyphs">2002</text>
<line class="ax" x1="249.5" y1="362" x2="249.5" y2="366"/>
<text class="xl" transform="translate(251.6,368.3) rotate(-90)" text-anchor="end" textLength="24" lengthAdjust="spacingAndGlyphs">2003</text>
<line class="ax" x1="269.5" y1="362" x2="269.5" y2="366"/>
<text class="xl" transform="translate(271.6,368.3) rotate(-90)" text-anchor="end" textLength="24" lengthAdjust="spacingAndGlyphs">2004</text>
<line class="ax" x1="289.5" y1="362" x2="289.5" y2="366"/>
<text class="xl" transform="translate(291.6,368.3) rotate(-90)" text-anchor="end" textLength="24" lengthAdjust="spacingAndGlyphs">2005</text>
<line class="ax" x1="310.5" y1="362" x2="310.5" y2="366"/>
<text class="xl" transform="translate(312.6,368.3) rotate(-90)" text-anchor="end" textLength="24" lengthAdjust="spacingAndGlyphs">2006</text>
<line class="ax" x1="330.5" y1="362" x2="330.5" y2="366"/>
<text class="xl" transform="translate(332.6,368.3) rotate(-90)" text-anchor="end" textLength="24" lengthAdjust="spacingAndGlyphs">2007</text>
<line class="ax" x1="350.5" y1="362" x2="350.5" y2="366"/>
<text class="xl" transform="translate(352.6,368.3) rotate(-90)" text-anchor="end" textLength="24" lengthAdjust="spacingAndGlyphs">2008</text>
<line class="ax" x1="371.5" y1="362" x2="371.5" y2="366"/>
<text class="xl" transform="translate(373.6,368.3) rotate(-90)" text-anchor="end" textLength="24" lengthAdjust="spacingAndGlyphs">2009</text>
<line class="ax" x1="391.5" y1="362" x2="391.5" y2="366"/>
<text class="xl" transform="translate(393.6,368.3) rotate(-90)" text-anchor="end" textLength="24" lengthAdjust="spacingAndGlyphs">2010</text>
<line class="ax" x1="411.5" y1="362" x2="411.5" y2="366"/>
<text class="xl" transform="translate(413.6,368.3) rotate(-90)" text-anchor="end" textLength="24" lengthAdjust="spacingAndGlyphs">2011</text>
<line class="ax" x1="432.5" y1="362" x2="432.5" y2="366"/>
<text class="xl" transform="translate(434.6,368.3) rotate(-90)" text-anchor="end" textLength="24" lengthAdjust="spacingAndGlyphs">2012</text>
<line class="ax" x1="452.5" y1="362" x2="452.5" y2="366"/>
<text class="xl" transform="translate(454.6,368.3) rotate(-90)" text-anchor="end" textLength="24" lengthAdjust="spacingAndGlyphs">2013</text>
<line class="ax" x1="472.5" y1="362" x2="472.5" y2="366"/>
<text class="xl" transform="translate(474.6,368.3) rotate(-90)" text-anchor="end" textLength="24" lengthAdjust="spacingAndGlyphs">2014</text>
<line class="ax" x1="493.5" y1="362" x2="493.5" y2="366"/>
<text class="xl" transform="translate(495.6,368.3) rotate(-90)" text-anchor="end" textLength="24" lengthAdjust="spacingAndGlyphs">2015</text>
<line class="ax" x1="513.5" y1="362" x2="513.5" y2="366"/>
<text class="xl" transform="translate(515.5,368.3) rotate(-90)" text-anchor="end" textLength="24" lengthAdjust="spacingAndGlyphs">2016</text>
<line class="ax" x1="533.5" y1="362" x2="533.5" y2="366"/>
<text class="xl" transform="translate(535.5,368.3) rotate(-90)" text-anchor="end" textLength="24" lengthAdjust="spacingAndGlyphs">2017</text>
<line class="ax" x1="554.5" y1="362" x2="554.5" y2="366"/>
<text class="xl" transform="translate(556.5,368.3) rotate(-90)" text-anchor="end" textLength="24" lengthAdjust="spacingAndGlyphs">2018</text>
<line class="ax" x1="574.5" y1="362" x2="574.5" y2="366"/>
<text class="xl" transform="translate(576.5,368.3) rotate(-90)" text-anchor="end" textLength="24" lengthAdjust="spacingAndGlyphs">2019</text>
<line class="ax" x1="594.5" y1="362" x2="594.5" y2="366"/>
<text class="xl" transform="translate(596.5,368.3) rotate(-90)" text-anchor="end" textLength="24" lengthAdjust="spacingAndGlyphs">2020</text>
<line class="ax" x1="615.5" y1="362" x2="615.5" y2="366"/>
<text class="xl" transform="translate(617.5,368.3) rotate(-90)" text-anchor="end" textLength="24" lengthAdjust="spacingAndGlyphs">2021</text>
<line class="ax" x1="635.5" y1="362" x2="635.5" y2="366"/>
<text class="xl" transform="translate(637.5,368.3) rotate(-90)" text-anchor="end" textLength="24" lengthAdjust="spacingAndGlyphs">2022</text>
<line class="ax" x1="655.5" y1="362" x2="655.5" y2="366"/>
<text class="xl" transform="translate(657.5,368.3) rotate(-90)" text-anchor="end" textLength="24" lengthAdjust="spacingAndGlyphs">2023</text>
<line class="ax" x1="676.5" y1="362" x2="676.5" y2="366"/>
<text class="xl" transform="translate(678.5,368.3) rotate(-90)" text-anchor="end" textLength="24" lengthAdjust="spacingAndGlyphs">2024</text>
<line class="ax" x1="696.5" y1="362" x2="696.5" y2="366"/>
<text class="xl" transform="translate(698.5,368.3) rotate(-90)" text-anchor="end" textLength="24" lengthAdjust="spacingAndGlyphs">2025</text>
<line class="ax" x1="716.5" y1="362" x2="716.5" y2="366"/>
<text class="cj" transform="translate(17.5,326.0) rotate(-90)" text-anchor="middle">负债合计</text>
<rect x="733" y="283" width="75" height="24" fill="url(#lg)"/>
<rect x="742" y="290" width="22" height="9" fill="#008000"/>
<text class="cj" x="768.4" y="299.1">负债</text>
</svg></body></html>
